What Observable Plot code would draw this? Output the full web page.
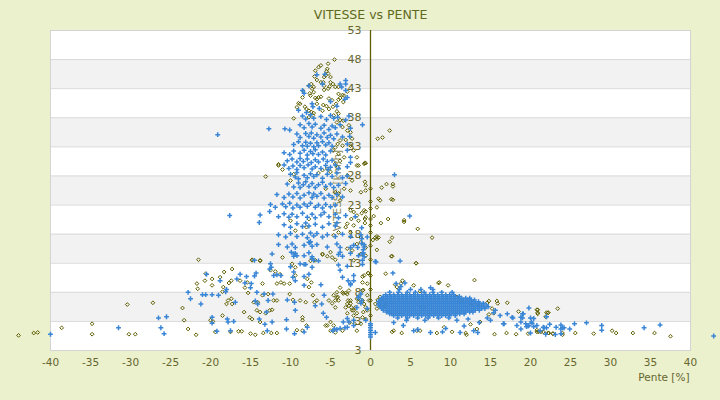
<!DOCTYPE html>
<html><head><meta charset="utf-8">
<script src="https://cdn.jsdelivr.net/npm/d3@7"></script>
<script src="https://cdn.jsdelivr.net/npm/@observablehq/plot@0.6"></script>
<style>
html,body{margin:0;padding:0;background:#ebf0cd;}
#chart{width:720px;height:400px;}
</style></head><body><div id="chart"></div>
<script>
const title = "VITESSE vs PENTE";
const xLabel = "Pente [%]";
const yLabel = "VITESSE [km/h]";
const xTicks = [-40,-35,-30,-25,-20,-15,-10,-5,0,5,10,15,20,25,30,35,40];
const yTicks = [-2,3,8,13,18,23,28,33,38,43,48,53];
const yTickLabels = ["3","3","8","13","18","23","28","33","38","43","48","53"];
const grayBands = [[3,8],[13,18],[23,28],[33,38],[43,48]];

// Blue series (+ markers)
const blueTower = [
[-3.1,44.4],[-3.1,43.8],[-3.8,43.8],[-3.6,43.3],[-3.1,42.7],[-2.9,41.5],[-3.2,41.2],[-6.0,43.8],[-5.7,45.5],[-6.7,45.4],[-7.7,43.5],[-8.5,42.7],[-8.3,42.2],[-7.3,40.4],[-7.2,39.9],[-5.0,40.8],[-6.4,39.6],[-4.2,40.0],[-9.0,39.3],[-8.0,38.9],
[-8.5,38.3],[-8.1,37.8],[-7.5,38.5],[-7.1,37.9],[-6.2,38.2],[-5.5,37.7],[-5.0,38.4],[-4.6,37.9],[-4.1,38.1],[-3.1,37.6],[-2.7,38.3],[-1.0,36.8],
[-12.7,36.1],[-10.7,36.1],[-10.1,35.9],[-8.8,36.8],[-8.3,36.3],[-7.7,37.0],[-7.3,36.4],[-6.9,36.9],[-6.2,36.2],[-5.8,36.7],[-5.2,36.0],[-4.8,36.6],[-4.4,36.3],[-3.8,36.8],[-2.5,36.2],
[-9.2,35.2],[-8.8,34.6],[-8.1,35.3],[-7.7,34.8],[-7.4,35.4],[-7.1,34.5],[-6.7,35.1],[-6.2,34.7],[-5.8,35.4],[-5.4,34.6],[-5.0,35.0],[-4.6,34.4],[-4.2,35.2],[-3.5,34.7],[-2.6,34.8],
[-9.6,33.4],[-9.0,33.9],[-8.5,33.2],[-8.1,33.8],[-7.9,33.1],[-7.5,33.6],[-7.1,33.0],[-6.7,33.7],[-6.5,33.2],[-6.0,33.9],[-5.6,33.3],[-5.2,33.7],[-4.8,33.1],[-2.9,33.5],
[-10.8,32.0],[-10.1,31.7],[-9.6,32.3],[-8.8,31.9],[-8.3,32.4],[-7.9,31.6],[-7.5,32.2],[-7.2,31.8],[-6.9,32.5],[-6.5,31.7],[-6.0,32.1],[-5.6,31.6],[-5.0,32.3],[-2.9,32.4],[-2.5,31.2],
[-10.4,30.6],[-9.8,30.9],[-9.2,30.4],[-8.8,31.0],[-8.4,30.5],[-7.9,30.9],[-7.4,30.3],[-6.9,30.8],[-6.5,30.4],[-5.9,30.9],[-5.4,30.5],[-4.8,30.7],[-2.5,30.3],
[-10.8,29.9],[-10.2,29.3],[-9.7,29.7],[-9.2,29.1],[-8.8,29.8],[-8.3,29.4],[-7.8,29.9],[-7.3,29.2],[-6.9,29.6],[-6.2,29.3],[-5.6,29.8],[-5.3,29.1],[-5.0,29.5],[-4.4,29.9],[-4.0,29.3],[-2.9,29.6],
[-10.0,28.3],[-9.4,27.8],[-9.2,28.6],[-9.0,27.5],[-8.3,28.1],[-7.9,27.7],[-7.5,28.4],[-7.1,27.9],[-6.7,28.2],[-6.0,27.6],[-5.4,28.3],[-4.8,27.9],[-4.2,28.5],[-3.5,27.7],[-2.9,28.0],
[-10.4,26.6],[-9.6,26.1],[-9.0,26.8],[-8.8,26.0],[-8.4,26.5],[-8.1,27.0],[-7.7,26.2],[-7.3,26.7],[-6.9,26.0],[-6.5,26.5],[-6.0,26.9],[-5.6,26.2],[-5.0,26.6],[-4.6,26.0],[-4.0,26.4],[-3.1,26.7],
[-11.7,24.8],[-10.8,24.3],[-10.2,24.9],[-9.7,24.4],[-9.2,25.0],[-8.8,24.2],[-8.3,24.7],[-7.7,25.1],[-7.3,24.3],[-7.1,24.9],[-6.7,24.5],[-6.2,25.0],[-5.8,24.2],[-5.2,24.7],[-4.8,24.3],[-4.2,24.8],[-3.5,24.4],
[-12.5,23.1],[-11.9,22.6],[-11.0,23.2],[-10.6,22.7],[-10.1,23.3],[-9.7,22.5],[-9.2,23.0],[-8.8,22.6],[-8.3,23.2],[-7.9,22.8],[-7.5,23.3],[-6.9,22.6],[-6.5,23.0],[-6.0,22.5],[-5.6,23.1],[-5.0,22.7],[-4.4,23.0],
[-13.8,21.3],[-11.5,21.0],[-10.8,21.5],[-10.2,20.9],[-9.8,21.4],[-9.2,21.0],[-8.5,21.6],[-7.9,20.9],[-7.3,21.4],[-6.9,20.8],[-6.2,21.3],[-5.8,21.7],[-5.2,21.0],[-4.4,21.4],[-4.0,20.8],[-3.1,21.2],[-1.9,21.0],
[-10.8,19.6],[-10.0,19.2],[-9.2,19.8],[-8.5,19.3],[-8.1,19.9],[-7.7,19.4],[-6.9,19.7],[-6.0,19.2],[-5.2,19.8],[-4.4,19.4],[-4.2,19.9],
[-11.5,17.9],[-10.6,17.5],[-10.0,18.1],[-9.2,17.6],[-8.5,18.0],[-7.9,17.4],[-7.5,18.2],[-7.1,17.7],[-6.7,18.1],[-6.0,17.5],[-5.4,17.9],[-4.4,17.6],[-3.5,18.0],[-2.5,17.6],[-1.2,17.9],[-0.4,17.5],
[-11.5,16.2],[-10.4,15.8],[-9.8,16.3],[-9.4,15.7],[-8.3,16.1],[-7.7,16.6],[-7.6,16.5],[-7.5,16.7],[-7.3,15.9],[-6.7,16.2],[-5.4,15.8],[-4.2,16.3],[-3.8,15.7],[-2.1,16.1],[-0.8,15.8],[-2.5,15.7],[-1.6,15.7],[-1.1,16.4],
[-12.3,14.6],[-9.6,14.2],[-9.4,14.7],[-8.3,14.3],[-7.7,14.8],[-7.3,14.1],[-4.0,14.5],[-3.5,14.2],[-2.5,14.7],[-1.5,14.3],[-1.0,14.6],[-0.8,14.1],[-3.8,14.9],
[-12.5,12.9],[-10.0,12.4],[-8.3,12.8],[-7.3,12.3],[-4.0,12.7],[-2.9,12.5],[-1.0,12.8],
[-19.1,35.1],[-17.6,21.2],[-13.9,20.0],[-12.6,21.9]
];
const blueLeft = [
[-40.0,0.8],[-31.5,1.9],[-26.5,3.6],[-25.5,3.8],[-26.2,1.9],[-25.8,0.9],[-22.8,8.0],[-22.5,6.9],[-21.2,6.0],[-20.5,11.1],[-21.0,7.6],[-20.6,7.6],[-19.8,7.6],[-19.0,7.5],[-18.8,10.0],[-19.8,3.7],[-19.8,2.7],[-19.2,1.3],[-18.0,8.5],[-18.1,8.1],[-17.9,3.4],[-17.8,2.9],[-17.1,3.0],[-16.9,6.3],[-16.7,10.3],[-16.3,11.1],[-17.5,1.4],[-15.5,10.7],[-15.7,9.6],[-14.3,11.3],[-14.5,10.8],[-14.9,9.5],[-15.0,8.8],[-14.4,6.5],[-14.1,6.0],[-13.9,3.4],[-13.2,2.5],[-13.0,4.6],[-12.9,1.4],[-12.3,2.9],[-12.6,12.0],[-12.4,12.3],[-12.1,10.9],[-11.7,11.0],[-11.2,10.9],[-12.2,7.7],[-13.3,7.7],[-12.8,6.6],[-14.2,8.0],[-9.9,14.9],[-9.6,14.6],[-9.2,14.3],[-9.6,11.5],[-9.7,10.6],[-9.4,10.0],[-10.4,6.7],[-9.5,6.3],[-9.4,4.9],[-10.5,3.3],[-10.5,1.7],[-9.5,0.9],[-8.3,1.2],[-7.9,2.0],[-8.3,9.2],[-7.7,11.1],[-8.3,10.7],[-8.8,12.9],[-8.1,12.8],[-7.3,13.8],[-7.1,13.5],[-6.5,13.4],[-6.2,9.3],[-6.1,6.0],[-5.8,7.5],[-5.9,4.4],[-5.5,3.7],[-6.9,5.7],[-4.7,1.4],[-4.5,1.7],[-4.2,1.6],[-3.8,1.8],[-3.4,2.9],[-3.2,1.9],[-2.9,2.0],[-2.7,2.9],[-3.8,11.8],[-3.5,10.6],[-2.8,10.0],[-2.5,9.3],[-2.1,10.9],[-1.2,7.7],[-1.5,7.2],[-1.1,6.6],[-2.1,3.2],[-2.1,2.3],[-14.5,13.5],
[-1.0,13.5],[-0.9,14.8],[-2.1,10.0],[-2.5,9.5],[-1.5,7.1],[-1.2,6.1],[-1.7,5.4],[-0.6,3.2],[-2.9,3.5],[-0.4,5.2]
];
const blueRight = [
[0,0.3],[0,0.7],[0,1.1],[0,1.5],[0,1.9],[0,2.3],[0,2.6],
[3.0,28.2],[4.9,21.1],[-1.1,19.1],[-1.1,17.2],[-0.8,16.2],[-0.9,15.3],[0.7,13.2],[3.7,13.4],[0.6,13.3],[2.8,11.3],[3.2,9.5],[4.3,9.6],[3.8,9.0],[7.5,8.8],
[15.6,4.9],[16.2,4.0],[17.1,4.3],[17.7,3.7],[16.7,2.6],[18.3,2.3],[18.8,2.9],[19.0,4.3],[19.8,5.3],[15.4,4.5],[14.6,3.6],[16.6,2.6],[19.8,2.3],[20.4,3.5],[21.6,2.0],[22.4,2.5],[23.2,2.0],[23.8,0.9],[21.2,1.4],[17.8,3.6],
[19.1,4.3],[19.0,3.6],[18.8,3.7],[20.0,3.6],[20.1,2.9],[20.2,2.7],[19.4,2.6],[19.5,2.1],[19.7,2.2],[18.8,1.7],[20.4,2.1],[20.8,2.3],[20.0,1.0],[22.0,3.8],[21.7,1.9],[22.0,1.9],[21.9,0.8],[23.1,0.75],[23.8,2.4],[24.0,1.9],[24.2,1.9],[23.8,1.7],[24.9,1.7],[25.5,2.6],[27.0,2.75],[28.9,2.3],[28.9,1.5],[34.2,1.9],[36.2,2.4],[42.9,0.5],
[5.4,1.4],[5.9,1.6],[7.5,1.1],[9.0,1.2],[9.4,1.8],[11.2,1.1],[12.9,1.4],[13.4,1.1],[4.1,2.3],[2.9,2.8],[0.6,1.1],[10.8,3.2],[12.2,3.4],[13.6,2.8],[15.0,3.2],[11.7,2.2]
];
// dense blue cluster: rows of [speed, [slopes]]
const blueBlobRows = [
[8.5,[3.6,5.0,6.3,7.8]],
[8.0,[2.4,3.5,4.6,5.6,6.7,7.8,8.9,10.2]],
[7.6,[1.9,2.4,2.9,3.4,3.9,4.4,4.9,5.4,5.9,6.4,6.9,7.4,7.9,8.4,8.9,9.4,9.9,10.4]],
[7.3,[1.6,2.1,2.6,3.1,3.6,4.1,4.6,5.1,5.6,6.1,6.6,7.1,7.6,8.1,8.6,9.1,9.6,10.1,10.6,11.1]],
[7.0,[1.4,1.9,2.4,2.9,3.4,3.9,4.4,4.9,5.4,5.9,6.4,6.9,7.4,7.9,8.4,8.9,9.4,9.9,10.4,10.9,11.4,11.9,12.4]],
[6.7,[1.2,1.65,2.15,2.65,3.15,3.65,4.15,4.65,5.15,5.65,6.15,6.65,7.15,7.65,8.15,8.65,9.15,9.65,10.15,10.65,11.15,11.65,12.15,12.6,13.0]],
[6.4,[1.0,1.4,1.9,2.4,2.9,3.4,3.9,4.4,4.9,5.4,5.9,6.4,6.9,7.4,7.9,8.4,8.9,9.4,9.9,10.4,10.9,11.4,11.9,12.4,12.9,13.5]],
[6.1,[1.1,1.65,2.15,2.65,3.15,3.65,4.15,4.65,5.15,5.65,6.15,6.65,7.15,7.65,8.15,8.65,9.15,9.65,10.15,10.65,11.15,11.65,12.15,12.65,13.15,13.6,14.1]],
[5.8,[1.0,1.4,1.9,2.4,2.9,3.4,3.9,4.4,4.9,5.4,5.9,6.4,6.9,7.4,7.9,8.4,8.9,9.4,9.9,10.4,10.9,11.4,11.9,12.4,12.9,13.4,13.9,14.5]],
[5.5,[1.2,1.65,2.15,2.65,3.15,3.65,4.15,4.65,5.15,5.65,6.15,6.65,7.15,7.65,8.15,8.65,9.15,9.65,10.15,10.65,11.15,11.65,12.15,12.65,13.15,13.65,14.2,14.7]],
[5.2,[1.4,1.9,2.4,2.9,3.4,3.9,4.4,4.9,5.4,5.9,6.4,6.9,7.4,7.9,8.4,8.9,9.4,9.9,10.4,10.9,11.4,11.9,12.4,12.9,13.4,13.9,14.3]],
[4.9,[1.6,2.15,2.65,3.15,3.65,4.15,4.65,5.15,5.65,6.15,6.65,7.15,7.65,8.15,8.65,9.15,9.65,10.15,10.65,11.15,11.65,12.15,12.65,13.1,13.6]],
[4.6,[2.0,2.4,2.9,3.4,3.9,4.4,4.9,5.4,5.9,6.4,6.9,7.4,7.9,8.4,8.9,9.4,9.9,10.4,10.9,11.4,11.9,12.4,12.8]],
[4.3,[2.4,2.65,3.15,3.65,4.15,4.65,5.15,5.65,6.15,6.65,7.15,7.65,8.15,8.65,9.15,9.65,10.15,10.65,11.15,11.7]],
[4.0,[2.9,3.4,3.9,4.4,4.9,5.4,5.9,6.4,6.9,7.4,7.9,8.4,8.9,9.4,9.9,10.6]],
[3.6,[3.4,4.6,5.9,7.2,8.5,9.8]],
[3.2,[4.5,6.8]]
];

// Olive series (diamond markers)
const oliveTower = [
[-4.5,48.0],[-5.3,47.3],[-5.4,46.4],[-5.5,46.0],[-5.3,45.6],[-5.6,45.3],[-5.0,45.0],[-5.8,45.0],[-5.9,44.1],[-5.8,43.5],[-6.2,47.0],[-6.5,46.7],[-6.9,46.1],[-7.0,45.1],[-6.7,44.5],[-6.2,44.1],[-5.0,44.1],[-4.7,43.8],[-5.1,43.4],[-4.4,43.3],[-4.0,43.3],[-5.3,43.0],[-5.8,42.8],[-4.0,42.1],[-3.5,41.9],[-3.3,41.8],[-2.9,42.5],[-3.8,41.4],[-4.0,41.1],[-3.4,40.7],[-4.3,40.4],[-4.7,39.9],[-4.8,41.0],[-5.2,41.3],[-6.2,41.6],[-6.5,41.5],[-6.7,41.2],[-6.9,41.4],[-7.5,41.8],[-7.6,42.2],[-7.1,42.4],[-7.3,43.0],[-7.1,43.3],[-7.7,43.5],[-7.4,43.8],[-8.4,42.6],[-8.5,41.5],[-9.0,40.5],[-8.8,40.4],[-9.2,39.8],[-8.2,39.9],[-8.0,39.5],[-7.4,39.0],[-7.7,39.2],[-7.1,38.8],[-6.7,40.4],[-5.9,40.2],[-5.5,40.0],[-5.2,39.5],[-6.0,39.2],[-7.2,38.4],[-7.7,38.1],[-9.6,37.9],[-4.2,39.1],[-4.0,38.7],[-4.6,38.4],[-3.8,37.6],[-3.4,37.5],[-4.2,37.2],[-3.5,36.4],[-2.9,35.8],[-2.5,35.5],[-2.7,36.7],[-2.3,34.4],[-3.1,34.2],[-3.8,34.1],[-4.1,33.5],[-3.5,33.2],[-4.4,32.9],[-4.7,32.4],[-4.0,31.8],[-3.3,31.2],[-3.8,30.6],[-4.4,30.1],[-4.1,29.5],[-2.5,33.2],[-2.1,32.4],[-1.7,31.2],[-0.6,30.2],[-1.5,29.8],[-11.5,29.8],
[-11.5,30.0],[-11.0,29.1],[-13.1,27.9],[-9.6,28.3],[-10.0,27.2],[-6.5,28.5],[-6.0,29.0],[-5.4,29.2],[-5.0,28.7],[-5.6,25.8],[-4.4,25.2],[-4.0,25.0],[-3.8,23.8],[-3.3,25.8],[-2.5,25.5],[-2.3,27.2],[-2.9,28.1],[-1.7,29.8],[-0.8,30.1],[-2.5,22.1],[-2.1,21.8],[-1.7,21.2],[-2.4,20.6],[-2.9,19.8],[-3.1,19.2],[-2.5,18.3],[-2.1,19.5],[-1.5,20.3],[-0.8,22.1],[-0.6,20.9],[-1.7,16.3],[-2.9,15.5],[-2.3,15.2],[-1.2,14.6],[-2.1,13.5],[-0.6,14.3],[-5.0,14.9],[-6.0,14.6],[-6.9,13.5],[-7.5,13.4],[-9.8,12.9],[-9.4,12.3],[-14.8,13.5],[-13.8,13.5],[-10.0,20.3],[-7.7,20.6],[-8.0,19.2],[-9.4,18.6],[-4.6,17.8],[-4.0,18.3]
];
const oliveLeft = [
[-44.0,0.6],[-42.1,1.0],[-41.6,1.1],[-38.6,1.9],[-34.8,2.6],[-34.8,0.8],[-30.4,5.9],[-30.2,0.8],[-29.4,0.8],
[-21.5,13.6],[-27.2,6.2],[-23.5,5.3],[-23.3,3.2],[-22.8,1.7],[-21.8,0.7],[-20.6,11.2],[-20.7,10.0],[-21.7,9.5],[-21.6,8.6],[-19.8,10.3],[-19.8,9.2],[-18.8,10.6],[-18.3,11.5],[-18.4,8.9],[-18.5,8.1],[-20.0,3.2],[-19.7,3.0],[-19.4,1.2],[-18.5,4.0],[-17.3,12.0],[-17.7,9.6],[-17.4,10.0],[-17.8,6.6],[-18.0,6.0],[-17.3,6.0],[-17.4,6.9],[-16.3,10.0],[-17.5,1.2],[-16.5,1.3],[-16.1,1.3],[-15.4,9.7],[-15.7,8.8],[-15.3,7.9],[-14.8,13.6],[-13.8,13.4],[-14.6,6.3],[-14.1,6.3],[-14.2,4.9],[-13.8,4.6],[-15.8,4.6],[-15.1,3.7],[-14.8,3.4],[-13.8,2.9],[-13.1,4.4],[-15.0,0.9],[-14.4,0.7],[-13.4,1.0],[-12.4,1.0],[-11.7,1.0],[-12.5,11.8],[-11.9,11.6],[-11.3,11.1],[-11.7,9.5],[-11.2,9.7],[-12.1,6.6],[-11.7,6.6],[-12.8,7.7],[-13.5,7.5],[-13.5,9.5],[-12.6,4.9],[-12.3,5.0],[-11.0,14.0],[-10.8,9.5],[-10.1,9.5],[-10.1,7.7],[-9.7,6.7],[-9.4,10.9],[-8.8,6.6],[-8.1,6.3],[-8.5,3.7],[-8.5,3.2],[-8.0,2.3],[-9.2,1.5],[-8.5,1.4],[-7.9,10.3],[-7.4,9.7],[-7.7,8.9],[-6.0,14.5],[-5.4,14.2],[-4.8,14.0],[-4.4,13.6],[-5.2,6.6],[-4.8,6.1],[-4.6,7.5],[-4.2,8.0],[-4.4,6.6],[-4.1,7.2],[-7.2,7.5],[-7.0,6.3],[-6.7,6.6],[-5.6,2.3],[-5.4,2.3],[-5.0,2.9],[-4.6,2.3],[-3.5,8.0],[-3.1,7.9],[-2.9,7.7],[-2.7,8.3],[-2.5,6.6],[-2.9,6.0],[-2.7,5.7],[-2.4,5.4],[-2.1,4.9],[-1.9,5.4],[-1.7,6.9],[-1.5,6.3],[-2.1,4.0],[-1.7,1.4],[-1.2,2.6],
[-3.8,8.8],[-3.4,7.8],[-2.8,6.6],[-2.5,6.1],[-3.1,5.4],[-2.3,4.9],[-1.7,4.4],[-2.9,4.4],[-1.0,8.3],[-1.5,6.9],[-4.0,6.6],[-4.4,5.4],[-4.2,7.1],[-2.6,2.8],[-2.0,2.6],[-3.5,1.4],[-4.4,1.1],[-5.0,1.4],
[-1.0,6.6],[-0.8,6.0],[-0.6,5.4],[-0.4,4.9],[-0.9,4.6],[-1.0,3.7],[-0.6,3.4],[-0.2,6.6],[-0.4,7.5],[-0.9,8.4],[-0.4,9.5],[-1.0,9.7],[-0.3,11.3],[-0.8,10.9],[-1.0,10.7]
];
const oliveRight = [
[0,25.8],[0,23.6],[0,22.4],[0,20.6],[0,19.5],[0,18.3],[0,16.0],[0,13.6],[0,10.9],[0,8.5],[0,6.6],[0,4.0],
[2.4,35.8],[0.9,34.4],[1.5,34.6],[-0.7,30.2],[-0.7,27.0],[-0.6,26.4],[-0.6,25.5],[-1.2,25.2],[1.4,26.0],[2.0,26.6],[2.8,26.6],[2.8,26.2],[1.0,24.1],[1.2,23.8],[2.8,23.9],[0.8,22.6],[-0.6,21.9],[-1.1,21.6],[0.4,21.1],[-0.7,20.6],[-0.7,19.9],[2.2,20.6],[4.2,20.4],[4.2,20.1],[1.3,19.9],[5.9,18.9],[0.8,17.6],[0.6,17.4],[1.0,17.4],[0.8,17.2],[0.3,17.0],[2.7,17.4],[2.4,16.7],[7.7,17.4],[-0.6,15.7],[0.8,15.3],[2.7,14.2],[5.7,13.0],[-1.2,17.5],[-1.2,16.6],[2.6,24.0],
[2.6,14.2],[5.7,13.0],[1.9,11.2],[-0.3,11.3],[4.0,10.0],[3.8,9.5],[3.1,9.3],[3.3,8.9],[5.4,9.2],[6.2,8.2],[8.5,9.6],[8.6,9.7],[9.7,9.2],[13.0,10.1],[10.8,7.2],[11.2,6.6],[12.6,5.7],[13.3,5.8],[14.6,6.2],[14.8,6.5],[15.8,6.5],[15.9,6.1],[17.1,6.2],[18.5,4.7],[20.8,5.0],[20.9,4.5],[22.2,4.5],[15.2,5.2],[15.4,4.4],[14.8,4.2],[1.2,7.2],[1.7,6.6],[1.9,6.0],[0.9,6.7],[0.6,6.0],[1.5,5.4],[0.8,5.2],[2.6,6.3],[6.5,5.4],
[2.7,1.2],[2.9,1.4],[3.9,1.0],[5.8,1.4],[6.2,1.4],[8.3,1.0],[9.2,2.0],[10.2,1.2],[11.9,1.0],[12.0,0.7],[17.0,1.0],[15.5,0.8],[18.2,0.8],[20.8,1.5],[20.8,1.2],[22.2,1.0],[22.8,0.9],[12.5,2.5],[13.3,1.7],[13.7,2.9],
[20.9,5.0],[20.9,4.3],[22.2,4.5],[23.4,5.2],[21.0,1.2],[19.7,0.9],[21.3,1.2],[21.6,1.2],[22.3,1.0],[22.8,0.9],[24.0,1.0],[24.0,0.7],[25.6,1.0],[27.9,0.9],[30.2,1.4],[30.7,1.0],[32.8,1.0],[35.5,1.0],[37.5,0.45],[22.0,4.5],[21.9,3.8]
];

const blueBlob = blueBlobRows.flatMap(([y, xs]) => xs.map(x => [x, y]));
const toObj = ([x, y]) => ({x, y});
const blueData = [...blueTower, ...blueLeft, ...blueRight, ...blueBlob].map(toObj);
const oliveData = [...oliveTower, ...oliveLeft, ...oliveRight].map(toObj);

const olive = "#5e5e00";
const blue = "#3a86d6";
const textCol = "#66662e";

const chart = Plot.plot({
  width: 720, height: 400,
  marginTop: 30, marginBottom: 50, marginLeft: 50, marginRight: 30,
  style: {fontFamily: "DejaVu Sans", background: "transparent", overflow: "visible"},
  x: {domain: [-40, 40], axis: null},
  y: {domain: [-2, 53], axis: null},
  marks: [
    Plot.frame({fill: "white", stroke: null}),
    Plot.rect(grayBands, {y1: d => d[0], y2: d => d[1], fill: "#f2f2f2"}),
    Plot.ruleY(yTicks, {stroke: "#d9d9d9", strokeWidth: 1}),
    Plot.frame({stroke: "#d4d4d4", strokeWidth: 1}),
    Plot.ruleX([0], {stroke: "#5f5f00", strokeWidth: 1.3}),
    Plot.text(yTicks, {y: d => d, frameAnchor: "middle", text: (d, i) => yTickLabels[i], textAnchor: "end", dx: -9, fontSize: 11, fill: textCol}),
    Plot.text(xTicks, {x: d => d, frameAnchor: "bottom", text: d => String(d), dy: 15, fontSize: 10.5, fill: textCol}),
    Plot.text([yLabel], {frameAnchor: "middle", dx: -33, rotate: -90, fontSize: 10.5, fill: "#8a8a5a"}),
    Plot.text([title], {frameAnchor: "top", dy: -20, fontSize: 12.5, fill: "#5f6a1e"}),
    Plot.text([xLabel], {frameAnchor: "bottom-right", textAnchor: "end", dy: 30, dx: -1, fontSize: 10.5, fill: textCol}),
    Plot.dot(oliveData, {x: "x", y: "y", symbol: "diamond2", r: 1.7, stroke: olive, strokeWidth: 1, fill: "none"}),
    Plot.dot(blueData, {x: "x", y: "y", symbol: "plus", r: 1.7, stroke: blue, strokeWidth: 1.5})
  ]
});
document.getElementById("chart").appendChild(chart);
</script></body></html>
